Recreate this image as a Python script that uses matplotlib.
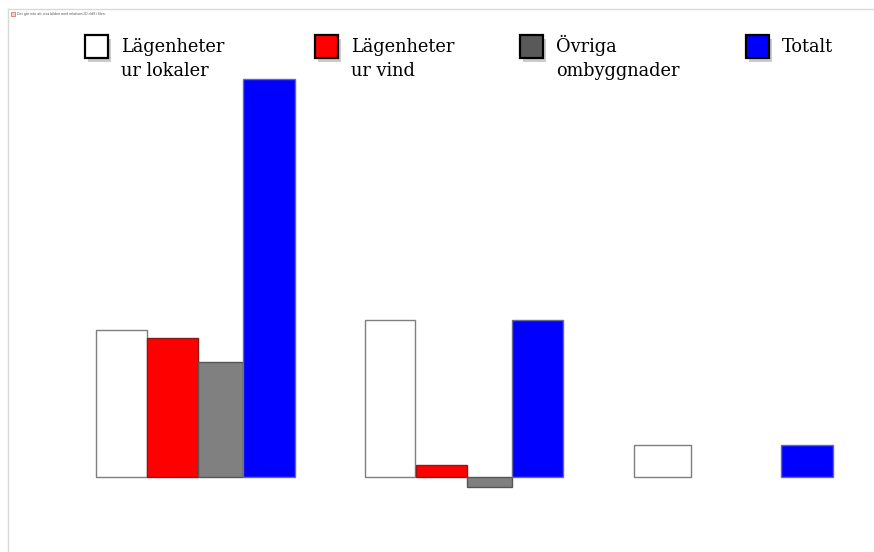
import numpy as np
from matplotlib import pyplot as plt
from matplotlib.patches import Rectangle
import matplotlib.patheffects as pe

# data (bar heights, arbitrary units)
series = ["Lägenheter\nur lokaler", "Lägenheter\nur vind", "Övriga\nombyggnader", "Totalt"]
lokaler = [147, 157, 32]
vind = [139, 12, 0]
ovriga = [115, -10, 0]
totalt = [398, 157, 32]

colors = ["#ffffff", "#ff0000", "#808080", "#0000ff"]
edges = ["#7f7f7f", "#8a1a1a", "#555555", "#6a6a9a"]
legend_colors = ["#ffffff", "#ff0000", "#595959", "#0000ff"]

W, H = 874, 552
fig = plt.figure(figsize=(W / 100, H / 100), dpi=100)
ax = fig.add_axes([0, 0, 1, 1])
ax.set_xlim(0, W)
ax.set_ylim(-(H - 477), 477)
ax.axis("off")

# layout
group_start = 96 + 269 * np.arange(3)
offsets = [0, 51, 102, 147]
widths = [[51, 50, 57], [51, 51, 51], [45, 45, 46], [52, 51, 52]]

values = [lokaler, vind, ovriga, totalt]
for k, vals in enumerate(values):
    for g, v in enumerate(vals):
        if v == 0:
            continue
        ax.bar(group_start[g] + offsets[k], v, width=widths[k][g], align="edge",
               color=colors[k], edgecolor=edges[k], linewidth=1.0, zorder=2)

# frame lines of the slide
fig.add_artist(plt.Line2D([8 / W, 1], [1 - 9 / H, 1 - 9 / H], color="#d9d9d9", lw=1))
fig.add_artist(plt.Line2D([8 / W, 8 / W], [0, 1 - 9 / H], color="#d9d9d9", lw=1))

# broken picture placeholder
fig.add_artist(Rectangle((11 / W, 1 - 16 / H), 4 / W, 4 / H, facecolor="#f3d0d0",
                         edgecolor="#c04040", lw=0.4))
fig.text(17 / W, 1 - 14 / H, "Det går inte att visa bilden med relations-ID rId9 i filen.",
         fontsize=2.3, color="#555555", va="center", ha="left")

# legend drawn by hand
leg_x = [85, 315, 520, 746]
for k in range(4):
    x0 = leg_x[k]
    sq = Rectangle((x0 / W, 1 - 58 / H), 23 / W, 23 / H, transform=fig.transFigure,
                   facecolor=legend_colors[k], edgecolor="black", lw=1.6,
                   path_effects=[pe.SimplePatchShadow(offset=(2, -3), shadow_rgbFace="#999999", alpha=0.5),
                                 pe.Normal()])
    fig.add_artist(sq)
    for j, line in enumerate(series[k].split("\n")):
        fig.text((x0 + 36) / W, 1 - (52 + 24 * j) / H, line, fontsize=12.8,
                 family="DejaVu Serif", va="baseline", ha="left", color="black")

fig.savefig("out.png", dpi=100)
